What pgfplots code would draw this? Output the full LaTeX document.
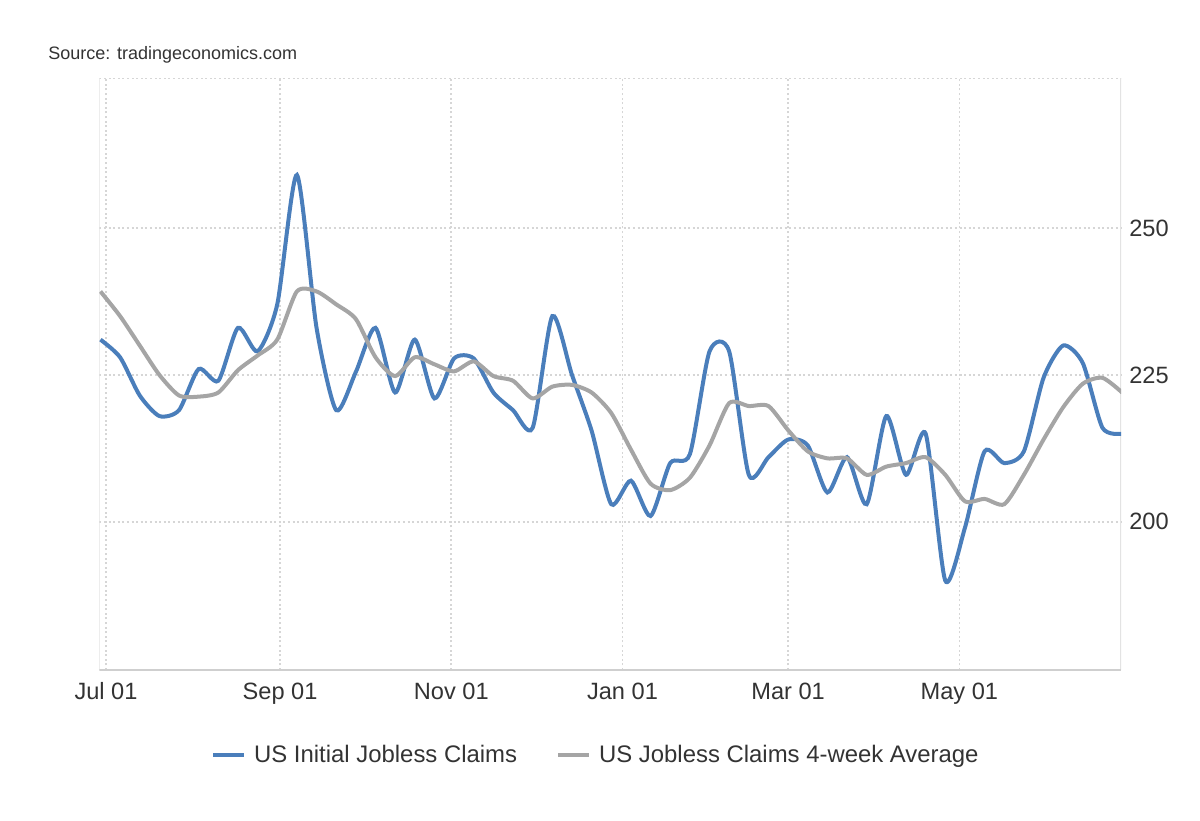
\documentclass[border=0pt]{standalone}
\usepackage{fontspec}
\setmainfont{Liberation Sans}
\usepackage{pgfplots}
\pgfplotsset{compat=1.18}
\definecolor{tblue}{HTML}{4A7EBB}
\definecolor{tgray}{HTML}{A5A5A5}
\definecolor{ttext}{HTML}{333333}
\definecolor{tgrid}{HTML}{D6D6D6}
\definecolor{taxis}{HTML}{CFCFCF}
\definecolor{tside}{HTML}{E3E3E3}
\begin{document}
\begin{tikzpicture}
\path[use as bounding box] (0pt,0pt) rectangle (600pt,-410pt);
\node[anchor=base west, font=\fontsize{9}{11}\selectfont, text=ttext, inner sep=0] at (24pt,-29.75pt) {Source: tradingeconomics.com};
\begin{axis}[
  at={(49.65pt,-39pt)}, anchor=north west,
  scale only axis, width=510.85pt, height=296pt,
  xmin=-2.4, xmax=361.6, ymin=174.8, ymax=275.5,
  xtick={0,62,123,184,243,304},
  xticklabels={Jul 01, Sep 01, Nov 01, Jan 01, Mar 01, May 01},
  ytick={200,225,250},
  yticklabel pos=right,
  grid=major, grid style={tgrid, line width=0.8pt, dash pattern=on 1pt off 1.3pt},
  major tick length=0pt,
  axis line style={draw=none},
  tick label style={font=\fontsize{11.8}{14}\selectfont, text=ttext},
  xticklabel style={yshift=-2.8pt},
  yticklabel style={xshift=0.6pt},
  /pgf/number format/assume math mode=true,
  legend style={at={(0.487,-0.1436)}, anchor=center, draw=none, fill=none,
    legend columns=2, font=\fontsize{11.95}{14}\selectfont, text=ttext,
    /tikz/every even column/.append style={column sep=17.5pt}},
  legend image code/.code={\draw[#1] (0pt,0pt) -- (15.5pt,0pt); \path (17.5pt,0pt);},
]
\draw[tgrid, line width=0.8pt, dash pattern=on 1pt off 1.3pt] (rel axis cs:0,1) -- (rel axis cs:1,1);
\draw[tside, line width=1pt] (rel axis cs:0,0) -- (rel axis cs:0,1);
\draw[tside, line width=1pt] (rel axis cs:1,0) -- (rel axis cs:1,1);
\draw[taxis, line width=1pt] (rel axis cs:0,0) -- (rel axis cs:1,0);
\addplot[tblue, line width=2pt, smooth, tension=0.42] coordinates {
(-2,231) (5,228) (12,221.5) (19,218) (26,219) (33,226) (40,224) (47,233) (54,229) (61,237)
(68,259) (75,233) (82,219) (89,225.5) (96,233) (103,222) (110,231) (117,221) (124,227.8) (131,227.8)
(138,222) (145,219) (152,216) (159,235) (166,225) (173,215.5) (180,203) (187,207) (194,201) (201,210)
(208,211.5) (215,229) (222,229) (229,208) (236,211) (243,214) (250,213) (257,205) (264,211) (271,203)
(278,218) (285,208) (292,215) (299,190) (306,199) (313,212) (320,210) (327,212) (334,224.5) (341,230)
(348,227) (355,216) (362,215)
};
\addlegendentry{US Initial Jobless Claims}
\addplot[tgray, line width=2pt, smooth, tension=0.42] coordinates {
(-2,239.2) (5,235) (12,230) (19,225) (26,221.5) (33,221.3) (40,222) (47,225.8) (54,228.3) (61,231)
(68,239.2) (75,239.2) (82,237) (89,234.5) (96,228) (103,224.8) (110,228) (117,226.8) (124,225.6) (131,227.3)
(138,224.8) (145,224) (152,221) (159,223) (166,223.3) (173,222) (180,218.5) (187,212.3) (194,206.5) (201,205.4)
(208,207.5) (215,213) (222,220.2) (229,219.7) (236,219.7) (243,215.6) (250,212) (257,210.8) (264,210.8) (271,208)
(278,209.4) (285,210) (292,211) (299,208) (306,203.5) (313,203.9) (320,203) (327,208) (334,214) (341,219.5)
(348,223.5) (355,224.5) (362,222)
};
\addlegendentry{US Jobless Claims 4-week Average}
\end{axis}
\end{tikzpicture}
\end{document}
